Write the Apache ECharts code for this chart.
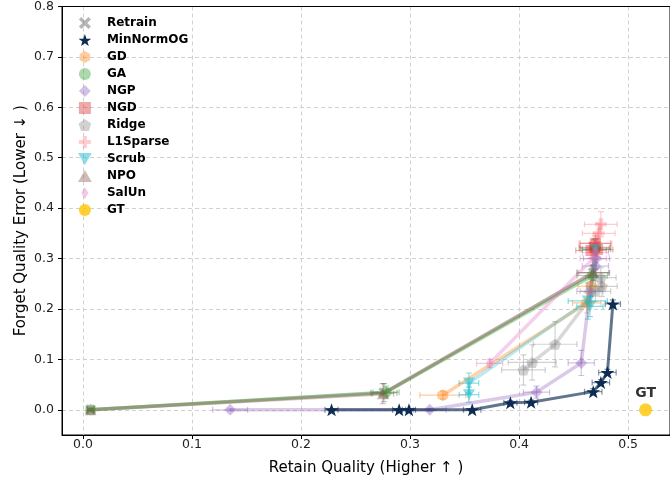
<!DOCTYPE html>
<html>
<head>
<meta charset="utf-8">
<script src="https://cdn.jsdelivr.net/npm/echarts@6/dist/echarts.min.js"></script>
<style>html,body{margin:0;padding:0;background:#fff}#c{width:670px;height:482px}</style>
</head>
<body>
<div id="c"></div>
<script>
// ---- data ----
const xTicks = [0, 0.1, 0.2, 0.3, 0.4, 0.5];
const yTicks = [0, 0.1, 0.2, 0.3, 0.4, 0.5, 0.6, 0.7, 0.8];
const legendNames = ['Retrain','MinNormOG','GD','GA','NGP','NGD','Ridge','L1Sparse','Scrub','NPO','SalUn','GT'];

const retrainX = [0.007, 0.276, 0.468];
const retrainY = [0.0, 0.034, 0.272];
const retrainXErr = [0.003, 0.012, 0.015];
const retrainYErr = [0.002, 0.018, 0.015];

const gdX = [0.330, 0.462, 0.466, 0.470];
const gdY = [0.029, 0.212, 0.245, 0.318];
const gdXErr = [0.021, 0.013, 0.012, 0.014];
const gdYErr = [0.008, 0.02, 0.02, 0.02];

const gaX = [0.007, 0.278, 0.467, 0.470];
const gaY = [0.0, 0.035, 0.266, 0.320];
const gaXErr = [0.003, 0.012, 0.014, 0.014];
const gaYErr = [0.002, 0.012, 0.02, 0.02];

const ngpX = [0.135, 0.318, 0.416, 0.457, 0.465, 0.470, 0.471];
const ngpY = [0.0, 0.0, 0.035, 0.093, 0.235, 0.285, 0.300];
const ngpXErr = [0.016, 0.015, 0.012, 0.012, 0.012, 0.012, 0.012];
const ngpYErr = [0.002, 0.003, 0.012, 0.025, 0.02, 0.02, 0.02];

const ngdX = [0.466, 0.469, 0.472, 0.470];
const ngdY = [0.316, 0.322, 0.318, 0.330];
const ngdXErr = [0.014, 0.014, 0.014, 0.014];
const ngdYErr = [0.015, 0.015, 0.015, 0.015];

const ridgeX = [0.404, 0.412, 0.433, 0.470, 0.476, 0.475];
const ridgeY = [0.079, 0.094, 0.130, 0.235, 0.245, 0.262];
const ridgeXErr = [0.020, 0.022, 0.020, 0.014, 0.014, 0.014];
const ridgeYErr = [0.030, 0.035, 0.045, 0.02, 0.02, 0.02];

const l1sparseX = [0.470, 0.473, 0.475];
const l1sparseY = [0.330, 0.350, 0.368];
const l1sparseXErr = [0.015, 0.015, 0.015];
const l1sparseYErr = [0.02, 0.02, 0.025];

const scrubX = [0.354, 0.354, 0.463, 0.465, 0.470];
const scrubY = [0.030, 0.053, 0.216, 0.205, 0.318];
const scrubXErr = [0.009, 0.009, 0.018, 0.012, 0.012];
const scrubYErr = [0.015, 0.02, 0.036, 0.02, 0.02];

const npoX = [0.007, 0.275, 0.468];
const npoY = [0.0, 0.032, 0.272];
const npoXErr = [0.003, 0.010, 0.014];
const npoYErr = [0.002, 0.020, 0.015];

const salunX = [0.373, 0.468, 0.470];
const salunY = [0.092, 0.300, 0.312];
const salunXErr = [0.012, 0.012, 0.012];
const salunYErr = [0.008, 0.02, 0.02];

const minNormX = [0.228, 0.290, 0.299, 0.357, 0.392, 0.411, 0.468, 0.475, 0.481, 0.486];
const minNormY = [0.0, 0.0, 0.0, 0.0, 0.014, 0.015, 0.036, 0.054, 0.074, 0.210];
const minNormXErr = [0.006, 0.006, 0.006, 0.008, 0.006, 0.006, 0.008, 0.008, 0.008, 0.007];
const minNormYErr = [0.002, 0.002, 0.002, 0.002, 0.004, 0.004, 0.006, 0.006, 0.006, 0.008];

const gtX = [0.516];
const gtY = [0.0];

// ---- symbols ----
const SYM = {
  x: 'path://M0,20 L20,0 L50,30 L80,0 L100,20 L70,50 L100,80 L80,100 L50,70 L20,100 L0,80 L30,50 Z',
  star: 'path://M50,0 L61.8,35.1 L98.1,35.1 L68.8,56.7 L79.4,90.5 L50,69.5 L20.6,90.5 L31.2,56.7 L1.9,35.1 L38.2,35.1 Z',
  hex: 'path://M50,0 L93.3,25 L93.3,75 L50,100 L6.7,75 L6.7,25 Z',
  circle: 'circle',
  diamond: 'path://M50,0 L100,50 L50,100 L0,50 Z',
  square: 'path://M0,0 L100,0 L100,100 L0,100 Z',
  pent: 'path://M50,0 L97.6,34.5 L79.4,90.5 L20.6,90.5 L2.4,34.5 Z',
  plus: 'path://M33,0 L67,0 L67,33 L100,33 L100,67 L67,67 L67,100 L33,100 L33,67 L0,67 L0,33 L33,33 Z',
  tdown: 'path://M0,0 L100,0 L50,87 Z',
  tup: 'path://M50,0 L100,87 L0,87 Z',
  thind: 'path://M30,0 L60,50 L30,100 L0,50 Z'
};

const methods = [
  {name:'Retrain', x:retrainX, y:retrainY, xe:retrainXErr, ye:retrainYErr, sym:SYM.x, size:[11,11], color:'rgba(110,110,110,0.5)', line:'rgba(127,127,127,0.3)'},
  {name:'GD', x:gdX, y:gdY, xe:gdXErr, ye:gdYErr, sym:SYM.hex, size:[11,12], color:'rgba(255,127,14,0.4)', line:'rgba(255,127,14,0.35)'},
  {name:'GA', x:gaX, y:gaY, xe:gaXErr, ye:gaYErr, sym:SYM.circle, size:11, color:'rgba(44,160,44,0.4)', line:'rgba(44,160,44,0.4)'},
  {name:'NGP', x:ngpX, y:ngpY, xe:ngpXErr, ye:ngpYErr, sym:SYM.diamond, size:[12,12], color:'rgba(148,103,189,0.4)', line:'rgba(148,103,189,0.35)'},
  {name:'NGD', x:ngdX, y:ngdY, xe:ngdXErr, ye:ngdYErr, sym:SYM.square, size:[11,11], color:'rgba(214,39,40,0.4)', line:'rgba(214,39,40,0.35)'},
  {name:'Ridge', x:ridgeX, y:ridgeY, xe:ridgeXErr, ye:ridgeYErr, sym:SYM.pent, size:[12,11], color:'rgba(127,127,127,0.35)', line:'rgba(127,127,127,0.3)'},
  {name:'L1Sparse', x:l1sparseX, y:l1sparseY, xe:l1sparseXErr, ye:l1sparseYErr, sym:SYM.plus, size:[12,12], color:'rgba(255,110,120,0.35)', line:'rgba(255,110,120,0.3)'},
  {name:'Scrub', x:scrubX, y:scrubY, xe:scrubXErr, ye:scrubYErr, sym:SYM.tdown, size:[12,11], color:'rgba(23,190,207,0.5)', line:'rgba(23,190,207,0.3)'},
  {name:'NPO', x:npoX, y:npoY, xe:npoXErr, ye:npoYErr, sym:SYM.tup, size:[12,11], color:'rgba(140,86,75,0.4)', line:'rgba(140,86,75,0.35)'},
  {name:'SalUn', x:salunX, y:salunY, xe:salunXErr, ye:salunYErr, sym:SYM.thind, size:[8,13], color:'rgba(227,119,194,0.4)', line:'rgba(227,119,194,0.35)'}
];
const minNorm = {name:'MinNormOG', x:minNormX, y:minNormY, xe:minNormXErr, ye:minNormYErr, sym:SYM.star, size:[14,13], color:'#0c2c52', line:'rgba(12,44,82,0.65)', err:'rgba(12,44,82,0.5)'};

function pts(m) { return m.x.map((v, i) => [v, m.y[i]]); }
function errPts(m) { return m.x.map((v, i) => [v, m.y[i], m.xe[i], m.ye[i]]); }

function errSeries(m, z) {
  const col = m.err || m.color;
  return {
    type: 'custom', name: m.name + '_err', z: z, clip: true,
    data: errPts(m), encode: {x: 0, y: 1},
    renderItem: function (params, api) {
      const x = api.value(0), y = api.value(1), xe = api.value(2), ye = api.value(3);
      const c = api.coord([x, y]);
      const l = api.coord([x - xe, y])[0], r = api.coord([x + xe, y])[0];
      const t = api.coord([x, y + ye])[1], b = api.coord([x, y - ye])[1];
      const cap = 3;
      const st = {stroke: col, lineWidth: 1.2, fill: null};
      const L = (x1, y1, x2, y2) => ({type: 'line', shape: {x1, y1, x2, y2}, style: st});
      return {type: 'group', children: [
        L(l, c[1], r, c[1]), L(l, c[1] - cap, l, c[1] + cap), L(r, c[1] - cap, r, c[1] + cap),
        L(c[0], t, c[0], b), L(c[0] - cap, t, c[0] + cap, t), L(c[0] - cap, b, c[0] + cap, b)
      ]};
    }
  };
}
function lineSeries(m, z, lw) {
  return {
    type: 'line', name: m.name, z: z, data: pts(m), symbol: m.sym, symbolSize: m.size,
    showSymbol: true, clip: true, animation: false,
    lineStyle: {color: m.line, width: lw},
    itemStyle: {color: m.color, borderWidth: 0}
  };
}

const series = [];
methods.forEach((m, i) => {
  series.push(errSeries(m, 2));
  series.push(lineSeries(m, 3, 3.5));
});
series.push(errSeries(minNorm, 5));
series.push(lineSeries(minNorm, 6, 3));
series.push({
  type: 'scatter', name: 'GT', z: 7, data: gtX.map((v, i) => [v, gtY[i]]),
  symbol: 'circle', symbolSize: 13, itemStyle: {color: '#ffc400'},
  label: {show: true, formatter: 'GT', position: 'top', distance: 3, color: '#000',
    fontWeight: 'bold', fontSize: 14, fontFamily: 'DejaVu Sans'}
});

const symMap = {};
methods.concat([minNorm]).forEach(m => symMap[m.name] = m.sym);
symMap['GT'] = 'circle';

const font = 'DejaVu Sans';
const xMin = -0.0192, xMax = 0.5384;
const option = {
  animation: false,
  backgroundColor: '#fff',
  grid: {left: 62, top: 5, width: 610, height: 430, show: true, borderColor: '#000', borderWidth: 1, backgroundColor: 'transparent'},
  xAxis: [{
    type: 'value', min: xMin, max: xMax,
    name: 'Retain Quality (Higher ↑ )', nameLocation: 'middle', nameGap: 26,
    nameTextStyle: {fontFamily: font, fontSize: 15, color: '#000'},
    axisLine: {show: true, onZero: false, lineStyle: {color: '#000', width: 1}},
    axisTick: {show: true, length: 4, customValues: xTicks, lineStyle: {color: '#000'}},
    axisLabel: {customValues: xTicks, formatter: v => v.toFixed(1), fontFamily: font, fontSize: 12.5, color: '#222', margin: 3},
    splitLine: {show: true, lineStyle: {color: '#cccccc', type: [4, 3], width: 0.9}}
  }, {
    type: 'value', min: xMin, max: xMax, position: 'top', z: 10,
    axisLine: {show: true, onZero: false, lineStyle: {color: '#000', width: 1}},
    axisTick: {show: false}, axisLabel: {show: false}, splitLine: {show: false}
  }],
  yAxis: {
    type: 'value', min: -0.05, max: 0.8,
    name: 'Forget Quality Error (Lower ↓ )', nameLocation: 'middle', nameGap: 33, nameMoveOverlap: false,
    nameTextStyle: {fontFamily: font, fontSize: 15, color: '#000'},
    axisLine: {show: true, onZero: false, lineStyle: {color: '#000', width: 1}},
    axisTick: {show: true, length: 4, customValues: yTicks, lineStyle: {color: '#000'}},
    axisLabel: {customValues: yTicks, formatter: v => v.toFixed(1), fontFamily: font, fontSize: 12.5, color: '#222', margin: 8},
    splitLine: {show: true, lineStyle: {color: '#cccccc', type: [4, 3], width: 0.9}}
  },
  legend: {
    orient: 'vertical', left: 73, top: 12, itemWidth: 34, itemHeight: 12, itemGap: 5,
    textStyle: {fontFamily: font, fontWeight: 'bold', fontSize: 12, color: '#000', lineHeight: 12},
    data: legendNames.map(n => ({name: n, icon: symMap[n]}))
  },
  series: series
};
const chart = echarts.init(document.getElementById('c'), null, {renderer: 'canvas'});
chart.setOption(option);
</script>
</body>
</html>
